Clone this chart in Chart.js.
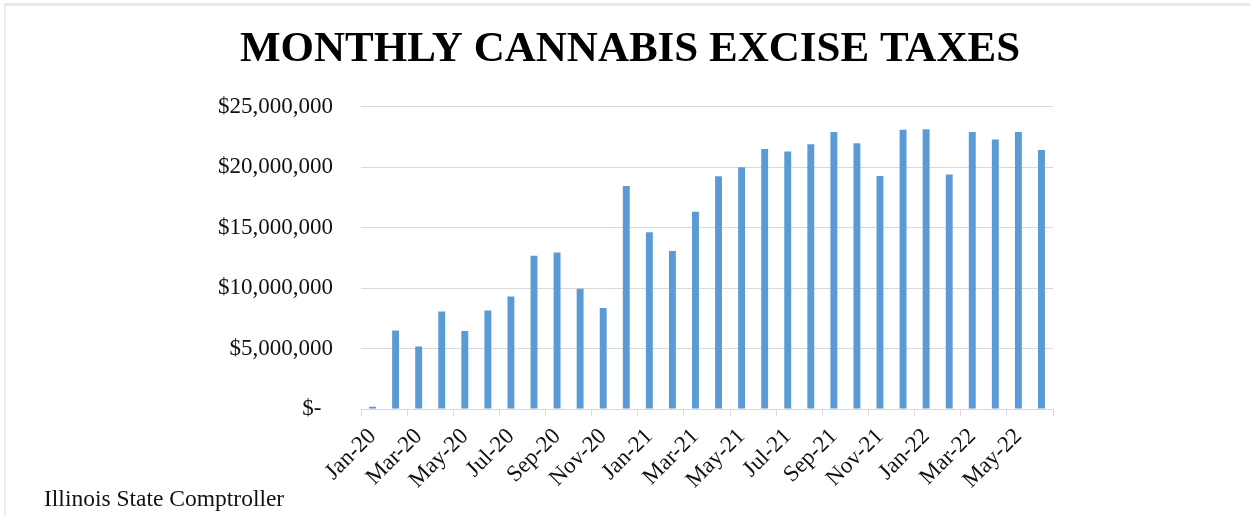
<!DOCTYPE html>
<html>
<head>
<meta charset="utf-8">
<title>Monthly Cannabis Excise Taxes</title>
<script src="https://cdn.jsdelivr.net/npm/chart.js@4.4.0/dist/chart.umd.min.js"></script>
<style>
    html, body { margin: 0; padding: 0; background: #fff; }
    #wrap { position: relative; width: 1250px; height: 517px; overflow: hidden; }
    #frame { position: absolute; left: 4px; top: 3px; right: 0; bottom: 0; border-top: 3px solid #e8e8e8; border-left: 2px solid #eeeeee; }
    #source { position: absolute; left: 44px; top: 485px; font: 23.5px 'Liberation Serif', 'Times New Roman', serif; color: #111; }
    canvas { position: absolute; left: 0; top: 0; }
</style>
</head>
<body>
<div id="wrap">
    <div id="frame"></div>
    <canvas id="taxChart" width="1250" height="517"></canvas>
    <div id="source">Illinois State Comptroller</div>
</div>
<script>
// Jan 2020 .. Jun 2022
const months = [
    'Jan-20', 'Feb-20', 'Mar-20', 'Apr-20', 'May-20', 'Jun-20',
    'Jul-20', 'Aug-20', 'Sep-20', 'Oct-20', 'Nov-20', 'Dec-20',
    'Jan-21', 'Feb-21', 'Mar-21', 'Apr-21', 'May-21', 'Jun-21',
    'Jul-21', 'Aug-21', 'Sep-21', 'Oct-21', 'Nov-21', 'Dec-21',
    'Jan-22', 'Feb-22', 'Mar-22', 'Apr-22', 'May-22', 'Jun-22'
];

// excise taxes in dollars
const taxes = [
    180000, 6490000, 5170000, 8070000, 6440000, 8150000,
    9310000, 12660000, 12940000, 9950000, 8350000, 18430000,
    14620000, 13070000, 16310000, 19240000, 19980000, 21500000,
    21280000, 21890000, 22910000, 21970000, 19260000, 23080000,
    23130000, 19380000, 22890000, 22280000, 22910000, 21420000
];

const yMin = 0;
const yMax = 25000000;
const yStep = 5000000;

const serif = "'Liberation Serif', 'Times New Roman', serif";
const gridGray = '#d9d9d9';

function dollars(v) {
    // accounting style: zero shows as a dash
    if (v === 0) return '$-  ';
    return '$' + v.toLocaleString('en-US');
}

const ctx = document.getElementById('taxChart');
new Chart(ctx, {
    type: 'bar',
    data: {
        labels: months,
        datasets: [{
            label: 'Excise taxes',
            data: taxes,
            backgroundColor: '#5b9bd5',
            borderWidth: 0,
            categoryPercentage: 1.0,
            barPercentage: 0.3
        }]
    },
    options: {
        responsive: false,
        animation: false,
        // left/right padding keep the title centred where the original has it
        layout: { padding: { left: 207, right: 197, top: 0, bottom: 0 } },
        plugins: {
            legend: { display: false },
            tooltip: { enabled: false },
            title: {
                display: true,
                text: 'MONTHLY CANNABIS EXCISE TAXES',
                color: '#000',
                font: { family: serif, size: 43, weight: 'bold' },
                padding: { top: 24, bottom: 31 }
            }
        },
        scales: {
            x: {
                offset: true,
                grid: {
                    offset: true,
                    drawOnChartArea: false,
                    drawTicks: true,
                    tickLength: 7,
                    // tick marks only on every second category boundary
                    color: c => (c.index === undefined || c.index % 2 === 0) ? gridGray : 'rgba(0,0,0,0)'
                },
                border: { display: true, color: gridGray, width: 1 },
                ticks: {
                    autoSkip: false,
                    minRotation: 45,
                    maxRotation: 45,
                    padding: 7,
                    color: '#111',
                    font: { family: serif, size: 23 },
                    callback: (val, i) => i % 2 === 0 ? months[i] : ''
                },
                afterFit: scale => { scale.height = 108; }
            },
            y: {
                min: yMin,
                max: yMax,
                grid: { color: gridGray, drawTicks: false },
                border: { display: false },
                ticks: {
                    stepSize: yStep,
                    padding: 28,
                    color: '#111',
                    font: { family: serif, size: 23 },
                    callback: v => dollars(v)
                },
                afterFit: scale => { scale.width = 154; }
            }
        }
    }
});
</script>
</body>
</html>
